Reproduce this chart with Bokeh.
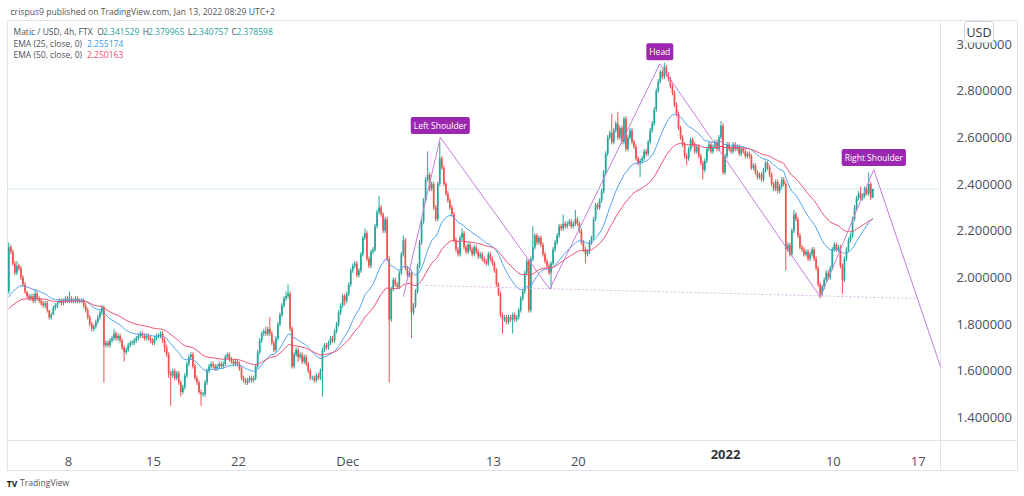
import numpy as np
import pandas as pd
from bokeh.plotting import figure
from bokeh.models import Range1d, FixedTicker, Label, ColumnDataSource, LinearAxis
from bokeh.embed import file_html
from bokeh.resources import INLINE

# ---------------- data ----------------
BASE = pd.Timestamp("2021-11-01")
first_day = pd.Timestamp("2021-11-03")          # first session shown
candle_offset_h = 2                             # 4h candles start at 02:00 local (UTC+2)
first_open = 1.94

# 4h closes, one row per day (Nov 3 ... Jan 13)
close_rows = [
    [2.13, 2.11, 2.06, 2.02, 2.05, 2.04],  # Nov 3
    [2.00, 1.97, 1.94, 1.92, 1.91, 1.92],
    [1.90, 1.93, 1.91, 1.90, 1.89, 1.88],
    [1.89, 1.86, 1.83, 1.84, 1.87, 1.88],
    [1.89, 1.90, 1.89, 1.90, 1.91, 1.90],
    [1.91, 1.90, 1.90, 1.91, 1.90, 1.90],  # Nov 8
    [1.90, 1.88, 1.86, 1.83, 1.80, 1.78],
    [1.79, 1.81, 1.83, 1.85, 1.87, 1.71],
    [1.72, 1.71, 1.73, 1.74, 1.76, 1.74],
    [1.75, 1.73, 1.70, 1.68, 1.69, 1.71],
    [1.72, 1.72, 1.73, 1.74, 1.75, 1.76],
    [1.75, 1.74, 1.75, 1.74, 1.73, 1.72],
    [1.74, 1.75, 1.75, 1.76, 1.73, 1.70],  # Nov 15
    [1.67, 1.59, 1.58, 1.60, 1.57, 1.59],
    [1.55, 1.51, 1.53, 1.58, 1.63, 1.66],
    [1.67, 1.62, 1.57, 1.55, 1.51, 1.50],
    [1.50, 1.55, 1.60, 1.62, 1.63, 1.62],
    [1.61, 1.62, 1.63, 1.62, 1.63, 1.66],
    [1.67, 1.65, 1.64, 1.63, 1.64, 1.63],
    [1.61, 1.57, 1.56, 1.55, 1.56, 1.57],  # Nov 22
    [1.56, 1.57, 1.62, 1.68, 1.73, 1.76],
    [1.77, 1.76, 1.78, 1.76, 1.72, 1.69],
    [1.74, 1.80, 1.84, 1.88, 1.91, 1.92],
    [1.93, 1.78, 1.62, 1.67, 1.69, 1.66],
    [1.67, 1.64, 1.66, 1.63, 1.60, 1.57],
    [1.57, 1.56, 1.58, 1.57, 1.60, 1.69],
    [1.71, 1.70, 1.72, 1.74, 1.73, 1.77],
    [1.80, 1.85, 1.88, 1.92, 1.90, 1.93],
    [1.97, 2.03, 2.05, 2.06, 2.01, 2.03],  # Dec 1
    [2.10, 2.17, 2.19, 2.08, 2.05, 2.11],
    [2.12, 2.22, 2.28, 2.30, 2.27, 2.20],
    [2.25, 2.08, 1.82, 1.95, 1.99, 1.97],
    [1.96, 2.02, 2.10, 2.16, 2.04, 2.01],
    [2.02, 1.85, 1.88, 1.94, 2.05, 2.15],
    [2.24, 2.33, 2.42, 2.44, 2.38, 2.40],
    [2.30, 2.25, 2.40, 2.51, 2.47, 2.40],
    [2.36, 2.33, 2.30, 2.27, 2.16, 2.12],
    [2.10, 2.17, 2.19, 2.13, 2.11, 2.14],
    [2.12, 2.10, 2.13, 2.11, 2.09, 2.10],
    [2.08, 2.07, 2.06, 2.10, 2.08, 2.06],
    [2.03, 1.97, 1.93, 1.84, 1.82, 1.83],  # Dec 13
    [1.81, 1.83, 1.82, 1.84, 1.82, 1.83],
    [1.86, 1.91, 1.94, 2.02, 2.07, 1.86],
    [2.08, 2.13, 2.18, 2.15, 2.17, 2.14],
    [2.10, 2.07, 2.05, 2.02, 2.06, 2.12],
    [2.15, 2.18, 2.22, 2.21, 2.23, 2.22],
    [2.23, 2.24, 2.22, 2.23, 2.25, 2.23],
    [2.20, 2.15, 2.12, 2.10, 2.11, 2.15],  # Dec 20
    [2.17, 2.25, 2.31, 2.30, 2.33, 2.37],
    [2.45, 2.53, 2.60, 2.62, 2.58, 2.63],
    [2.66, 2.60, 2.64, 2.58, 2.68, 2.55],
    [2.60, 2.63, 2.58, 2.56, 2.51, 2.49],
    [2.50, 2.51, 2.54, 2.53, 2.58, 2.63],
    [2.66, 2.72, 2.80, 2.84, 2.88, 2.86],
    [2.90, 2.87, 2.85, 2.82, 2.79, 2.74],
    [2.70, 2.64, 2.60, 2.57, 2.52, 2.51],
    [2.55, 2.59, 2.57, 2.54, 2.56, 2.52],
    [2.49, 2.46, 2.50, 2.55, 2.57, 2.54],
    [2.56, 2.58, 2.55, 2.60, 2.65, 2.45],
    [2.52, 2.57, 2.55, 2.54, 2.57, 2.55],  # Jan 1
    [2.56, 2.53, 2.55, 2.54, 2.52, 2.53],
    [2.52, 2.47, 2.48, 2.45, 2.43, 2.44],
    [2.42, 2.46, 2.49, 2.47, 2.44, 2.40],
    [2.38, 2.41, 2.37, 2.39, 2.42, 2.40],
    [2.12, 2.14, 2.10, 2.20, 2.27, 2.25],
    [2.18, 2.13, 2.12, 2.10, 2.11, 2.08],
    [2.10, 2.12, 2.08, 2.04, 1.97, 1.93],
    [1.96, 1.99, 2.02, 2.00, 2.04, 2.12],
    [2.14, 2.12, 2.13, 2.05, 1.99, 2.08],  # Jan 10
    [2.12, 2.16, 2.18, 2.25, 2.30, 2.34],
    [2.36, 2.34, 2.35, 2.38, 2.36, 2.40],
    [2.341529, 2.378598],                  # Jan 13
]

# upper / lower wick lengths in cents, same layout
upper_wick_rows = [
    "2 1 1 1 2 1", "1 1 1 0 1 1", "1 2 1 1 1 1", "1 1 0 1 1 1", "1 1 1 1 1 1",
    "3 1 1 1 1 1", "1 1 1 1 1 1", "1 1 1 1 1 1", "1 1 1 1 2 1", "1 1 1 1 1 1",
    "1 1 1 1 1 1", "1 1 1 1 1 1", "1 1 1 1 1 1", "1 1 1 1 1 1", "1 1 1 1 1 1",
    "1 1 1 1 1 1", "1 1 1 1 1 1", "1 1 1 1 1 1", "1 1 1 1 1 1", "1 1 1 1 1 1",
    "1 1 1 1 1 1", "1 2 1 5 1 1", "1 1 1 1 1 2", "4 1 1 1 1 1", "1 1 1 1 1 1",
    "1 1 1 1 1 1", "1 1 1 1 1 1", "1 1 1 1 1 1", "1 1 1 1 1 1", "1 1 2 1 1 1",
    "1 1 1 5 1 1", "1 1 1 1 1 1", "1 1 1 2 1 1", "1 1 1 1 1 1", "1 1 1 10 1 1",
    "1 1 1 7 1 1", "1 1 1 1 1 1", "1 1 2 1 1 1", "1 1 1 1 1 1", "1 1 1 1 1 1",
    "1 1 1 1 1 1", "1 1 1 1 1 1", "1 1 1 1 1 1", "1 9 1 1 1 1", "1 1 1 1 1 1",
    "1 1 1 1 4 1", "1 1 1 1 4 1", "1 1 1 1 1 1", "1 1 1 1 1 1", "1 1 1 1 8 1",
    "1 5 1 1 1 1", "1 1 1 1 1 1", "1 1 1 1 1 1", "1 1 1 1 1 1", "2 1 1 1 1 1",
    "1 1 1 1 1 1", "1 1 1 1 1 1", "1 1 1 1 1 1", "1 1 1 1 2 1", "1 1 1 1 1 1",
    "1 1 1 1 1 1", "1 1 1 1 1 1", "1 1 1 1 1 1", "1 1 1 1 1 1", "1 1 1 1 2 1",
    "1 1 1 1 1 1", "1 1 1 1 1 1", "1 1 1 1 1 1", "1 1 1 1 1 1", "1 1 1 1 1 1",
    "1 3 1 1 1 5", "1 0",
]
lower_wick_rows = [
    "1 1 1 1 1 1", "1 1 1 1 1 1", "1 1 1 1 1 1", "1 1 1 1 0 1", "1 0 1 1 1 1",
    "1 1 1 1 1 1", "1 1 1 1 1 1", "1 1 1 1 1 16", "1 1 1 1 1 1", "1 1 1 4 1 1",
    "1 1 1 1 1 1", "1 1 1 1 1 1", "1 1 1 1 1 2", "1 2 13 1 1 1", "1 2 1 1 1 1",
    "1 1 1 1 1 5", "1 1 1 1 1 1", "1 1 1 1 1 1", "1 1 1 1 1 1", "1 1 1 1 1 1",
    "1 1 1 1 1 1", "1 1 1 1 1 1", "1 1 1 1 1 1", "1 1 1 1 1 2", "1 1 1 1 1 1",
    "1 1 1 1 1 11", "1 1 1 1 1 1", "1 1 1 1 2 1", "1 1 1 1 1 1", "1 1 1 1 1 1",
    "1 1 1 1 1 1", "1 1 27 1 1 1", "1 1 1 1 1 1", "1 11 1 1 1 1", "1 1 1 1 1 1",
    "1 1 1 1 1 1", "1 1 1 1 1 1", "1 1 1 1 1 1", "1 1 1 1 1 1", "1 1 1 1 1 1",
    "1 1 1 1 6 1", "1 1 1 6 1 1", "1 1 1 1 1 1", "1 1 1 1 1 1", "1 1 1 1 7 1",
    "1 1 1 1 1 1", "1 1 1 1 1 1", "1 1 1 4 1 1", "1 1 1 1 1 1", "1 1 1 1 1 1",
    "1 1 1 1 1 1", "1 1 1 1 1 1", "6 1 1 1 1 1", "1 1 1 1 1 1", "1 1 1 1 1 1",
    "1 1 1 1 1 3", "1 1 1 1 1 1", "1 4 1 1 1 1", "1 1 1 1 1 1", "1 1 1 1 1 1",
    "1 1 1 1 1 1", "1 1 1 1 1 1", "1 1 1 1 1 1", "1 1 1 1 1 1", "9 1 1 1 1 1",
    "1 1 1 1 1 1", "1 1 1 1 1 2", "1 1 1 1 1 1", "1 1 1 1 6 1", "1 1 1 1 1 1",
    "1 1 1 1 1 1", "1 0",
]
last_ohlc = [2.341529, 2.379965, 2.340757, 2.378598]
ema25_first, ema50_first = 1.916, 1.866       # EMA values at the first visible bar
ema25_last, ema50_last = 2.255174, 2.250163   # as printed in the legend

# head & shoulders drawing (date, price)
pattern_times = ["2021-12-05 14:00", "2021-12-08 15:00", "2021-12-17 15:30",
                 "2021-12-26 17:00", "2022-01-08 22:30", "2022-01-13 08:00",
                 "2022-01-18 20:00"]
pattern_prices = [1.918, 2.600, 1.950, 2.915, 1.916, 2.462, 1.618]
neck_times = ["2021-12-07 10:00", "2022-01-16 22:00"]
neck_prices = [1.966, 1.910]
pattern_labels = ["Left Shoulder", "Head", "Right Shoulder"]
pattern_label_idx = [1, 3, 5]

price_ticks = [1.4, 1.6, 1.8, 2.0, 2.2, 2.4, 2.6, 2.8, 3.0]
price_tick_labels = ["1.400000", "1.600000", "1.800000", "2.000000", "2.200000",
                     "2.400000", "2.600000", "2.800000", "3.000000"]
date_ticks = ["2021-11-08", "2021-11-15", "2021-11-22", "2021-12-01", "2021-12-13",
              "2021-12-20", "2022-01-01", "2022-01-10", "2022-01-17"]
date_tick_labels = ["8", "15", "22", "Dec", "13", "20", "2022", "10", "17"]

# ---------------- derived series ----------------
closes = [c for row in close_rows for c in row]
ups = [int(v) for row in upper_wick_rows for v in row.split()]
dns = [int(v) for row in lower_wick_rows for v in row.split()]
n = len(closes)
opens = [first_open] + closes[:-1]
highs = [max(o, c) + u / 100 for o, c, u in zip(opens, closes, ups)]
lows = [min(o, c) - d / 100 for o, c, d in zip(opens, closes, dns)]
opens[-1], highs[-1], lows[-1], closes[-1] = last_ohlc

def day(ts):
    return (pd.Timestamp(ts) - BASE) / pd.Timedelta(days=1)

t0 = day(first_day) + candle_offset_h / 24
t = [t0 + k / 6 for k in range(n)]

def ema(vals, first, span):
    a = 2 / (span + 1)
    out = [first]
    for v in vals[1:]:
        out.append(out[-1] + a * (v - out[-1]))
    return out

e25 = ema(closes, ema25_first, 25)
e50 = ema(closes, ema50_first, 50)

UP, DOWN = "#26a69a", "#ef5350"
col = [UP if c >= o else DOWN for o, c in zip(opens, closes)]
top = [max(o, c) for o, c in zip(opens, closes)]
bot = [min(o, c) for o, c in zip(opens, closes)]
top = [tp if tp - b > 0.003 else b + 0.003 for tp, b in zip(top, bot)]
src = ColumnDataSource(dict(t=t, h=highs, l=lows, top=top, bot=bot, col=col))

# ---------------- layout helpers (page pixel -> data) ----------------
def px_x(px):
    return 7 + (px - 68) / 12.14

def px_y(py):
    return 2.0 + (277 - py) / 233.5

W, H = 1024, 496
p = figure(width=W, height=H, output_backend="svg", toolbar_location=None,
           x_range=Range1d(px_x(0), px_x(W)), y_range=Range1d(px_y(H), px_y(0)),
           x_axis_location=None, y_axis_location=None, min_border=0)
p.background_fill_color = "white"
p.border_fill_color = "white"
p.outline_line_color = None
p.grid.visible = False

FONT = "Open Sans"
TXT = "#4c4f5a"
LINE = "#e0e3eb"

# chart chrome: outer box and axis separators
p.quad(left=px_x(7), right=px_x(1017), bottom=px_y(470), top=px_y(20),
       fill_color=None, line_color=LINE, line_width=1)
p.segment(x0=px_x(940), y0=px_y(20), x1=px_x(940), y1=px_y(470), line_color=LINE)
p.segment(x0=px_x(7), y0=px_y(440), x1=px_x(1017), y1=px_y(440), line_color=LINE)

yax = LinearAxis(fixed_location=px_x(940))
yax.ticker = FixedTicker(ticks=price_ticks)
yax.major_label_overrides = {k: v for k, v in zip(price_ticks, price_tick_labels)}
yax.major_label_text_font = FONT
yax.major_label_text_font_size = "13px"
yax.major_label_text_color = TXT
yax.axis_line_color = None
yax.major_tick_line_color = None
yax.minor_tick_line_color = None
yax.major_label_standoff = 10
p.add_layout(yax, "right")

xt = [day(d) for d in date_ticks]
xax = LinearAxis(fixed_location=px_y(440))
xax.ticker = FixedTicker(ticks=xt)
xax.major_label_overrides = {k: ("" if v == "2022" else v) for k, v in zip(xt, date_tick_labels)}
xax.major_label_text_font = FONT
xax.major_label_text_font_size = "13px"
xax.major_label_text_color = TXT
xax.axis_line_color = None
xax.major_tick_line_color = None
xax.minor_tick_line_color = None
xax.major_label_standoff = 5
p.add_layout(xax, "below")

# last price line
p.segment(x0=px_x(7), y0=last_ohlc[3], x1=px_x(940), y1=last_ohlc[3],
          line_color="#26a69a", line_alpha=0.6, line_dash="1 2", line_width=1)

# candles
p.segment(x0="t", y0="l", x1="t", y1="h", line_color="col", line_width=1, source=src)
p.vbar(x="t", width=0.85 / 6, top="top", bottom="bot", fill_color="col",
       line_color=None, source=src)

# EMAs
p.line(t, e25, line_color="#4ca3ee", line_width=1)
p.line(t, e50, line_color="#ef4f70", line_width=1)

# pattern drawing
pt = [day(s) for s in pattern_times]
p.line([day(s) for s in neck_times], neck_prices, line_color="#dfb6e6",
       line_dash="2 2", line_width=1)
p.line(pt, pattern_prices, line_color="#c47ed9", line_width=1)

def lbl(px, py, text, color, size, align="left", bold=False, **kw):
    p.add_layout(Label(x=px_x(px), y=px_y(py), text=text, text_color=color,
                       text_font=FONT, text_font_size=f"{size}px", text_align=align,
                       text_baseline="middle",
                       text_font_style="bold" if bold else "normal", **kw))

for name, i in zip(pattern_labels, pattern_label_idx):
    p.add_layout(Label(x=pt[i], y=pattern_prices[i], y_offset=12, text=name,
                       text_color="white", text_font=FONT, text_font_size="8.5px",
                       text_align="center", text_baseline="middle",
                       background_fill_color="#9c27b0", border_radius=2, padding=3))

# header / legend texts
lbl(10, 11, "crispus9 published on TradingView.com, Jan 13, 2022 08:29 UTC+2", "#555", 8.6)
lbl(13, 31, "Matic / USD, 4h, FTX", TXT, 8.5)
for px_l, px_v, letter, v in [(96.7, 102.5, "O", last_ohlc[0]), (142.3, 147.5, "H", last_ohlc[1]),
                              (187.3, 191.5, "L", last_ohlc[2]), (231, 236, "C", last_ohlc[3])]:
    lbl(px_l, 31, letter, TXT, 8.5)
    lbl(px_v, 31, f"{v:.6f}", UP, 8.5)
lbl(13, 42.5, "EMA (25, close, 0)", TXT, 8.5)
lbl(86.5, 42.5, f"{ema25_last:.6f}", "#3d9be9", 8.5)
lbl(13, 53.5, "EMA (50, close, 0)", TXT, 8.5)
lbl(86.5, 53.5, f"{ema50_last:.6f}", "#ef4f70", 8.5)

# axis extras
lbl(978.5, 31.5, "USD", "#333", 12.5, align="center",
    background_fill_color="white", border_line_color="#d1d4dc", border_radius=3, padding=2)
lbl(725, 454, "2022", "#333", 13, align="center", bold=True)

# footer
lbl(11.5, 482.5, "TV", "#131722", 8.5, align="center", bold=True)
lbl(19.5, 482.5, "TradingView", "#555", 8.6)

open("out.html", "w").write(file_html(p, INLINE))
